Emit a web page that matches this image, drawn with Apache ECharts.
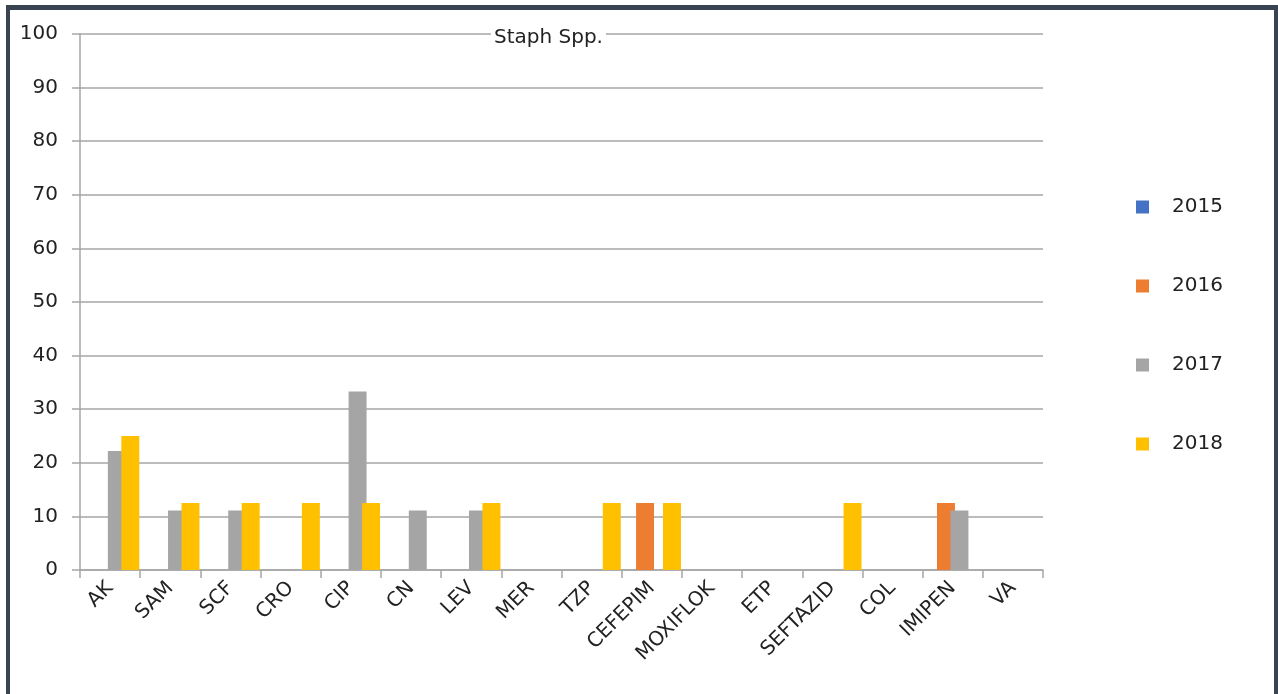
<!DOCTYPE html>
<html>
<head>
<meta charset="utf-8">
<script src="https://cdn.jsdelivr.net/npm/echarts@6/dist/echarts.min.js"></script>
<style>
  html, body { margin: 0; padding: 0; background: #fff; overflow: hidden; }
  #chart { position: absolute; left: 0; top: 0; width: 1278px; height: 694px; }
  #frame {
    position: absolute; left: 6px; top: 5px; width: 1272px; height: 760px;
    box-sizing: border-box; border: 4px solid #3a4352; border-top-width: 5px;
    pointer-events: none;
  }
</style>
</head>
<body>
<div id="chart"></div>
<div id="frame"></div>
<script>
// Antibiotic resistance (%) for Staph Spp. by year
const categories = ['AK', 'SAM', 'SCF', 'CRO', 'CIP', 'CN', 'LEV', 'MER', 'TZP',
  'CEFEPIM', 'MOXIFLOK', 'ETP', 'SEFTAZID', 'COL', 'IMIPEN', 'VA'];
const years = ['2015', '2016', '2017', '2018'];
const v2015 = [0, 0, 0, 0, 0, 0, 0, 0, 0, 0, 0, 0, 0, 0, 0, 0];
const v2016 = [0, 0, 0, 0, 0, 0, 0, 0, 0, 12.5, 0, 0, 0, 0, 12.5, 0];
const v2017 = [22.2, 11.1, 11.1, 0, 33.3, 11.1, 11.1, 0, 0, 0, 0, 0, 0, 0, 11.1, 0];
const v2018 = [25, 12.5, 12.5, 12.5, 12.5, 0, 12.5, 0, 12.5, 12.5, 0, 0, 12.5, 0, 0, 0];
const yTicks = [0, 10, 20, 30, 40, 50, 60, 70, 80, 90, 100];

const colors = ['#4472c4', '#ed7d31', '#a5a5a5', '#ffc000'];
const seriesValues = [v2015, v2016, v2017, v2018];
const font = 'DejaVu Sans, Verdana, sans-serif';
const gridColor = '#a6a6a6';

const chart = echarts.init(document.getElementById('chart'), null, { renderer: 'canvas' });
chart.setOption({
  animation: false,
  color: colors,
  title: {
    text: 'Staph Spp.',
    left: 491,
    top: 28,
    backgroundColor: '#fff',
    padding: [0, 3],
    textStyle: { fontFamily: font, fontSize: 20, fontWeight: 'normal', color: '#222' }
  },
  legend: {
    orient: 'vertical',
    left: 1136,
    top: 197,
    padding: 0,
    itemWidth: 13,
    itemHeight: 13,
    itemGap: 59,
    icon: 'rect',
    textStyle: { fontFamily: font, fontSize: 20, color: '#222', padding: [0, 0, 0, 18] },
    data: years
  },
  grid: { left: 80, right: 235, top: 34, bottom: 124, containLabel: false },
  xAxis: {
    type: 'category',
    data: categories,
    boundaryGap: true,
    axisLine: { show: true, lineStyle: { color: gridColor, width: 1.5 } },
    axisTick: { show: true, length: 8, alignWithLabel: false, lineStyle: { color: gridColor, width: 1.5 } },
    axisLabel: {
      rotate: 45, interval: 0, margin: 15,
      fontFamily: font, fontSize: 20, color: '#222'
    },
    splitLine: { show: false }
  },
  yAxis: {
    type: 'value',
    min: yTicks[0],
    max: yTicks[yTicks.length - 1],
    interval: yTicks[1] - yTicks[0],
    axisLine: { show: true, lineStyle: { color: gridColor, width: 1.5 } },
    axisTick: { show: true, length: 8, lineStyle: { color: gridColor, width: 1.5 } },
    axisLabel: { margin: 22, fontFamily: font, fontSize: 20, color: '#222' },
    splitLine: { show: true, lineStyle: { color: gridColor, width: 1.5 } }
  },
  series: years.map((y, i) => ({
    name: y,
    type: 'bar',
    data: seriesValues[i],
    barGap: '-25%',
    barCategoryGap: '3%',
    itemStyle: { color: colors[i] }
  }))
});
</script>
</body>
</html>
